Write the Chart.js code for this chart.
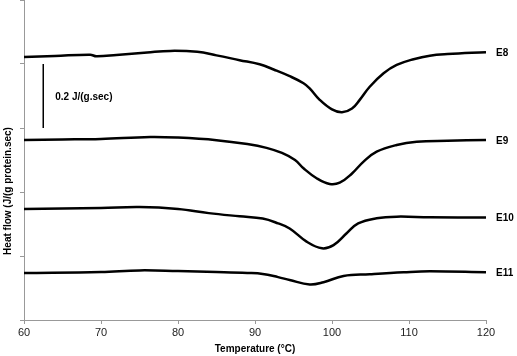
<!DOCTYPE html>
<html>
<head>
<meta charset="utf-8">
<script src="https://cdn.jsdelivr.net/npm/chart.js@4.4.0/dist/chart.umd.min.js"></script>
<style>
	html, body { margin: 0; padding: 0; background: #fff; }
	#wrap { width: 517px; height: 356px; }
</style>
</head>
<body>
<div id="wrap"><canvas id="myChart" width="517" height="356"></canvas></div>
<script>
// temperatures (°C) and heat flow values (J/(g protein.sec), offset stacked)
const tempE8 = [60, 64, 68.6, 69.4, 72, 76, 79, 82.5, 85, 88, 90.6, 92.5, 94.5, 96.3, 97.1, 98.4, 100, 101.3, 102.6, 103.6, 104.9, 106.7, 108.4, 110.6, 112.7, 115, 120];
const valE8 = [0.822, 0.825, 0.829, 0.824, 0.828, 0.836, 0.841, 0.838, 0.827, 0.812, 0.799, 0.782, 0.762, 0.74, 0.724, 0.688, 0.658, 0.649, 0.661, 0.688, 0.729, 0.771, 0.797, 0.815, 0.826, 0.831, 0.837];

const tempE9 = [60, 65, 70, 76.4, 80, 85, 89, 91.5, 93.5, 95.2, 96.3, 98, 99.7, 101, 102.6, 104.1, 105.8, 108.4, 111, 115, 120];
const valE9 = [0.5625, 0.564, 0.566, 0.572, 0.57, 0.562, 0.55, 0.538, 0.522, 0.5, 0.474, 0.443, 0.425, 0.429, 0.458, 0.495, 0.526, 0.547, 0.557, 0.56, 0.5625];

const tempE10 = [60, 70, 75, 80, 84, 88, 91, 93, 94.5, 96.7, 98.7, 100.2, 101.9, 103.4, 105.8, 108.4, 112.7, 120];
const valE10 = [0.347, 0.35, 0.353, 0.347, 0.334, 0.324, 0.317, 0.302, 0.286, 0.245, 0.224, 0.234, 0.271, 0.302, 0.318, 0.323, 0.321, 0.32];

const tempE11 = [60, 70, 75, 80, 85, 89, 91, 93, 94.5, 97.1, 98.9, 101.5, 104.9, 109.3, 112.7, 120];
const valE11 = [0.147, 0.15, 0.155, 0.153, 0.15, 0.147, 0.144, 0.134, 0.125, 0.111, 0.118, 0.1375, 0.143, 0.149, 0.152, 0.149];

const seriesLabels = ['E8', 'E9', 'E10', 'E11'];
const xTicks = [60, 70, 80, 90, 100, 110, 120];

// scale bar (0.2 J/(g.sec))
const barTemp = [62.5, 62.5];
const barVal = [0.6, 0.8];
const barLabel = '0.2 J/(g.sec)';

const toPoints = (xs, ys) => xs.map((x, i) => ({ x: x, y: ys[i] }));

const curves = [
	toPoints(tempE8, valE8),
	toPoints(tempE9, valE9),
	toPoints(tempE10, valE10),
	toPoints(tempE11, valE11)
];

const datasets = curves.map((pts, i) => ({
	label: seriesLabels[i],
	data: pts,
	borderColor: '#000',
	borderWidth: 2.5,
	pointRadius: 0,
	fill: false,
	tension: 0.4
}));

datasets.push({
	label: 'bar',
	data: toPoints(barTemp, barVal),
	borderColor: '#000',
	borderWidth: 1.5,
	pointRadius: 0,
	fill: false
});

// text on the chart: series names, scale bar label and axis titles
const textPlugin = {
	id: 'textPlugin',
	afterDraw(chart) {
		const ctx = chart.ctx;
		const xs = chart.scales.x;
		const ys = chart.scales.y;
		ctx.save();
		ctx.fillStyle = '#000';
		ctx.font = 'bold 10px "Liberation Sans", Arial, sans-serif';
		ctx.textBaseline = 'middle';
		ctx.textAlign = 'left';
		curves.forEach((pts, i) => {
			const last = pts[pts.length - 1];
			ctx.fillText(seriesLabels[i], xs.getPixelForValue(last.x) + 10, ys.getPixelForValue(last.y) + 1);
		});
		ctx.fillText(barLabel, xs.getPixelForValue(barTemp[0]) + 12, ys.getPixelForValue((barVal[0] + barVal[1]) / 2) + 1);

		ctx.textAlign = 'center';
		ctx.fillText('Temperature (°C)', (xs.left + xs.right) / 2, 349);

		ctx.translate(8, 191);
		ctx.rotate(-Math.PI / 2);
		ctx.fillText('Heat flow (J/(g protein.sec)', 0, 0);
		ctx.restore();
	}
};

const ctx = document.getElementById('myChart').getContext('2d');

new Chart(ctx, {
	type: 'line',
	data: { datasets: datasets },
	options: {
		responsive: false,
		animation: false,
		layout: { padding: { top: 0, right: 31, left: 0, bottom: 0 } },
		plugins: {
			legend: { display: false },
			tooltip: { enabled: false }
		},
		scales: {
			x: {
				type: 'linear',
				min: 60,
				max: 120,
				afterBuildTicks: (axis) => { axis.ticks = xTicks.map((v) => ({ value: v })); },
				afterFit: (axis) => { axis.height = 36; },
				border: { color: '#999', width: 1 },
				grid: { drawOnChartArea: false, drawTicks: true, tickLength: 4, color: '#999' },
				ticks: {
					color: '#222',
					padding: 2,
					font: { family: '"Liberation Sans", Arial, sans-serif', size: 11 }
				}
			},
			y: {
				type: 'linear',
				min: 0,
				max: 1.0,
				afterFit: (axis) => { axis.width = 24; },
				border: { color: '#999', width: 1 },
				grid: { drawOnChartArea: false, drawTicks: true, tickLength: 4, color: '#999' },
				ticks: { display: false, stepSize: 0.2 }
			}
		}
	},
	plugins: [textPlugin]
});
</script>
</body>
</html>
